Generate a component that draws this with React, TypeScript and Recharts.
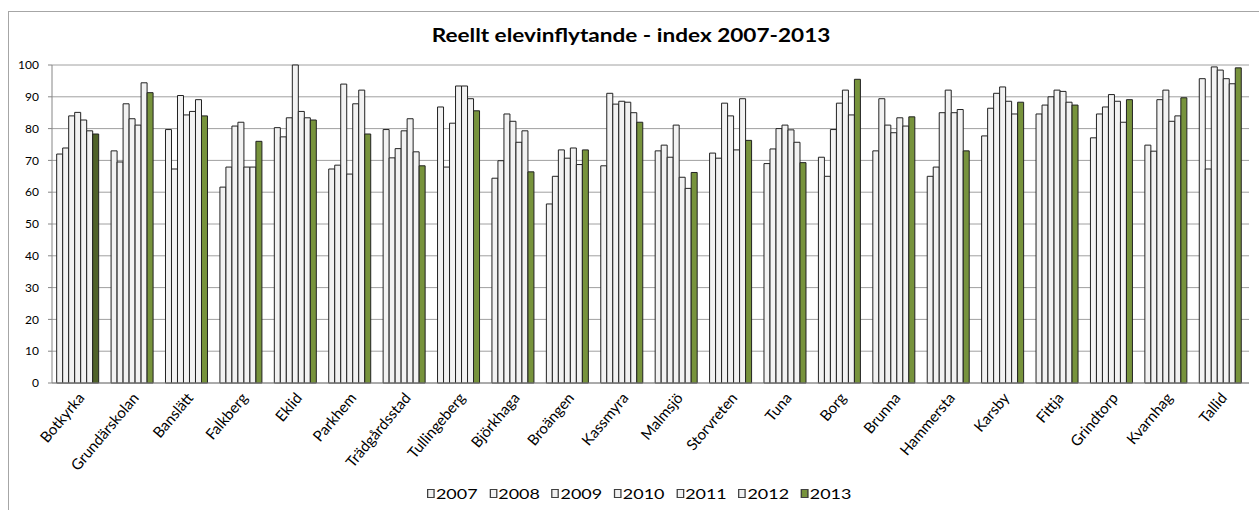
import React from 'react'
import { BarChart, Bar, Cell, XAxis, YAxis, CartesianGrid } from 'recharts'

const schools = [
  'Botkyrka', 'Grundärskolan', 'Banslätt', 'Falkberg', 'Eklid', 'Parkhem',
  'Trädgårdsstad', 'Tullingeberg', 'Björkhaga', 'Broängen', 'Kassmyra', 'Malmsjö',
  'Storvreten', 'Tuna', 'Borg', 'Brunna', 'Hammersta', 'Karsby', 'Fittja',
  'Grindtorp', 'Kvarnhag', 'Tallid',
]

const years = ['2007', '2008', '2009', '2010', '2011', '2012', '2013']

const v2007 = [72.0, 73.0, 79.7, 61.6, 80.3, 67.3, 79.7, 86.8, 64.4, 56.3, 68.3, 73.0, 72.3, 69.0, 71.0, 73.0, 65.0, 77.7, 84.6, 77.1, 74.8, 95.7]
const v2008 = [73.9, 69.5, 67.3, 67.9, 77.4, 68.5, 70.8, 67.9, 69.9, 65.0, 91.1, 74.8, 70.7, 73.6, 65.0, 89.4, 67.9, 86.4, 87.4, 84.6, 72.9, 67.3]
const v2009 = [84.0, 87.8, 90.4, 80.8, 83.4, 94.0, 73.7, 81.7, 84.6, 73.3, 87.7, 71.0, 88.0, 80.0, 79.7, 81.1, 85.0, 91.1, 90.0, 86.8, 89.1, 99.4]
const v2010 = [85.1, 83.1, 84.3, 82.0, 100, 65.7, 79.3, 93.4, 82.3, 70.7, 88.6, 81.1, 84.0, 81.1, 88.0, 78.7, 92.1, 93.1, 92.1, 90.7, 92.1, 98.4]
const v2011 = [82.7, 81.1, 85.4, 67.9, 85.4, 87.8, 83.1, 93.4, 75.7, 73.9, 88.3, 64.7, 73.3, 79.6, 92.1, 83.4, 85.0, 88.6, 91.7, 88.6, 82.3, 95.7]
const v2012 = [79.3, 94.4, 89.1, 67.9, 83.4, 92.1, 72.7, 89.4, 79.3, 68.7, 85.0, 61.2, 89.4, 75.7, 84.3, 80.8, 86.0, 84.6, 88.3, 82.0, 84.0, 94.1]
const v2013 = [78.3, 91.3, 84.0, 76.0, 82.7, 78.3, 68.3, 85.6, 66.4, 73.3, 82.0, 66.2, 76.3, 69.3, 95.5, 83.7, 73.0, 88.3, 87.4, 89.1, 89.7, 99.1]

const yTicks = [0, 10, 20, 30, 40, 50, 60, 70, 80, 90, 100]
const edgeTicks = schools.map((_, i) => i).concat(schools.length)

const seriesValues = [v2007, v2008, v2009, v2010, v2011, v2012, v2013]

const data = schools.map((name, i) => {
  const row: Record<string, string | number> = { name }
  years.forEach((y, k) => {
    row[y] = seriesValues[k][i]
  })
  return row
})

const FONT = 'Lato, "Open Sans", sans-serif'
const LIGHT = '#F2F2F2'
const GREEN = '#77933C'
const DARK_GREEN = '#4F6228'
const GRID = '#A0A0A0'
const TITLE_STRETCH = 1.22
const LEGEND_STRETCH = 1.28

const CategoryTick = (props: any) => {
  const { x, y, payload } = props
  return (
    <g transform={`translate(${x + 2},${y + 12})`}>
      <text
        transform="rotate(-50)"
        textAnchor="end"
        dy="0.35em"
        fontSize={15}
        fontFamily={FONT}
        fill="#000"
      >
        {payload.value}
      </text>
    </g>
  )
}

export default function App() {
  return (
    <div
      style={{
        position: 'relative',
        width: 1259,
        height: 510,
        overflow: 'hidden',
        background: '#fff',
        fontFamily: FONT,
      }}
    >
      <style>{'body{margin:0}'}</style>
      {/* chart area frame, runs off the right and bottom edges */}
      <div
        style={{
          position: 'absolute',
          left: 8,
          top: 11,
          width: 1300,
          height: 600,
          border: '1px solid #A6A6A6',
          boxSizing: 'border-box',
        }}
      />
      <div
        style={{
          position: 'absolute',
          left: 0,
          width: 1262,
          top: 24,
          textAlign: 'center',
          fontSize: 18.5,
          fontWeight: 700,
          color: '#000',
          transform: `scaleX(${TITLE_STRETCH})`,
          transformOrigin: '631px 0',
        }}
      >
        Reellt elevinflytande - index 2007-2013
      </div>
      <div style={{ position: 'absolute', left: 0, top: 0 }}>
        <BarChart
          width={1259}
          height={510}
          data={data}
          margin={{ top: 65, right: 10, bottom: 47, left: 0 }}
          barCategoryGap="8.6%"
          barGap={0}
        >
          <CartesianGrid vertical={false} stroke={GRID} />
          <XAxis
            xAxisId="edge"
            type="number"
            domain={[0, schools.length]}
            ticks={edgeTicks}
            tick={false}
            tickSize={5}
            tickLine={{ stroke: '#868686' }}
            axisLine={false}
            height={0}
          />
          <XAxis
            xAxisId="cat"
            dataKey="name"
            interval={0}
            height={80}
            tickLine={false}
            tickSize={0}
            tickMargin={0}
            axisLine={{ stroke: '#868686' }}
            tick={<CategoryTick />}
          />
          <YAxis
            width={52}
            domain={[0, 100]}
            ticks={yTicks}
            interval={0}
            tickSize={4}
            tickMargin={9}
            axisLine={{ stroke: '#868686' }}
            tickLine={{ stroke: '#868686' }}
            tick={{ fontSize: 12, fill: '#000', fontFamily: FONT }}
          />
          {years.map((y) => (
            <Bar
              key={y}
              xAxisId="cat"
              dataKey={y}
              fill={y === '2013' ? GREEN : LIGHT}
              stroke="#222"
              strokeWidth={1}
              isAnimationActive={false}
            >
              {y === '2013'
                ? data.map((_, i) => (
                    <Cell key={`c-${i}`} fill={i === 0 ? DARK_GREEN : GREEN} />
                  ))
                : null}
            </Bar>
          ))}
        </BarChart>
      </div>
      {/* legend */}
      <div
        style={{
          position: 'absolute',
          left: 427,
          top: 485,
          display: 'flex',
          fontSize: 14,
          color: '#000',
          lineHeight: '17px',
          transform: `scaleX(${LEGEND_STRETCH})`,
          transformOrigin: '0 0',
        }}
      >
        {years.map((y) => (
          <div
            key={y}
            style={{ width: 62.3 / LEGEND_STRETCH, display: 'flex', alignItems: 'center' }}
          >
            <span
              style={{
                display: 'inline-block',
                width: 4,
                height: 7,
                marginRight: 1,
                background: y === '2013' ? GREEN : LIGHT,
                border: '1px solid #404040',
              }}
            />
            <span>{y}</span>
          </div>
        ))}
      </div>
    </div>
  )
}
